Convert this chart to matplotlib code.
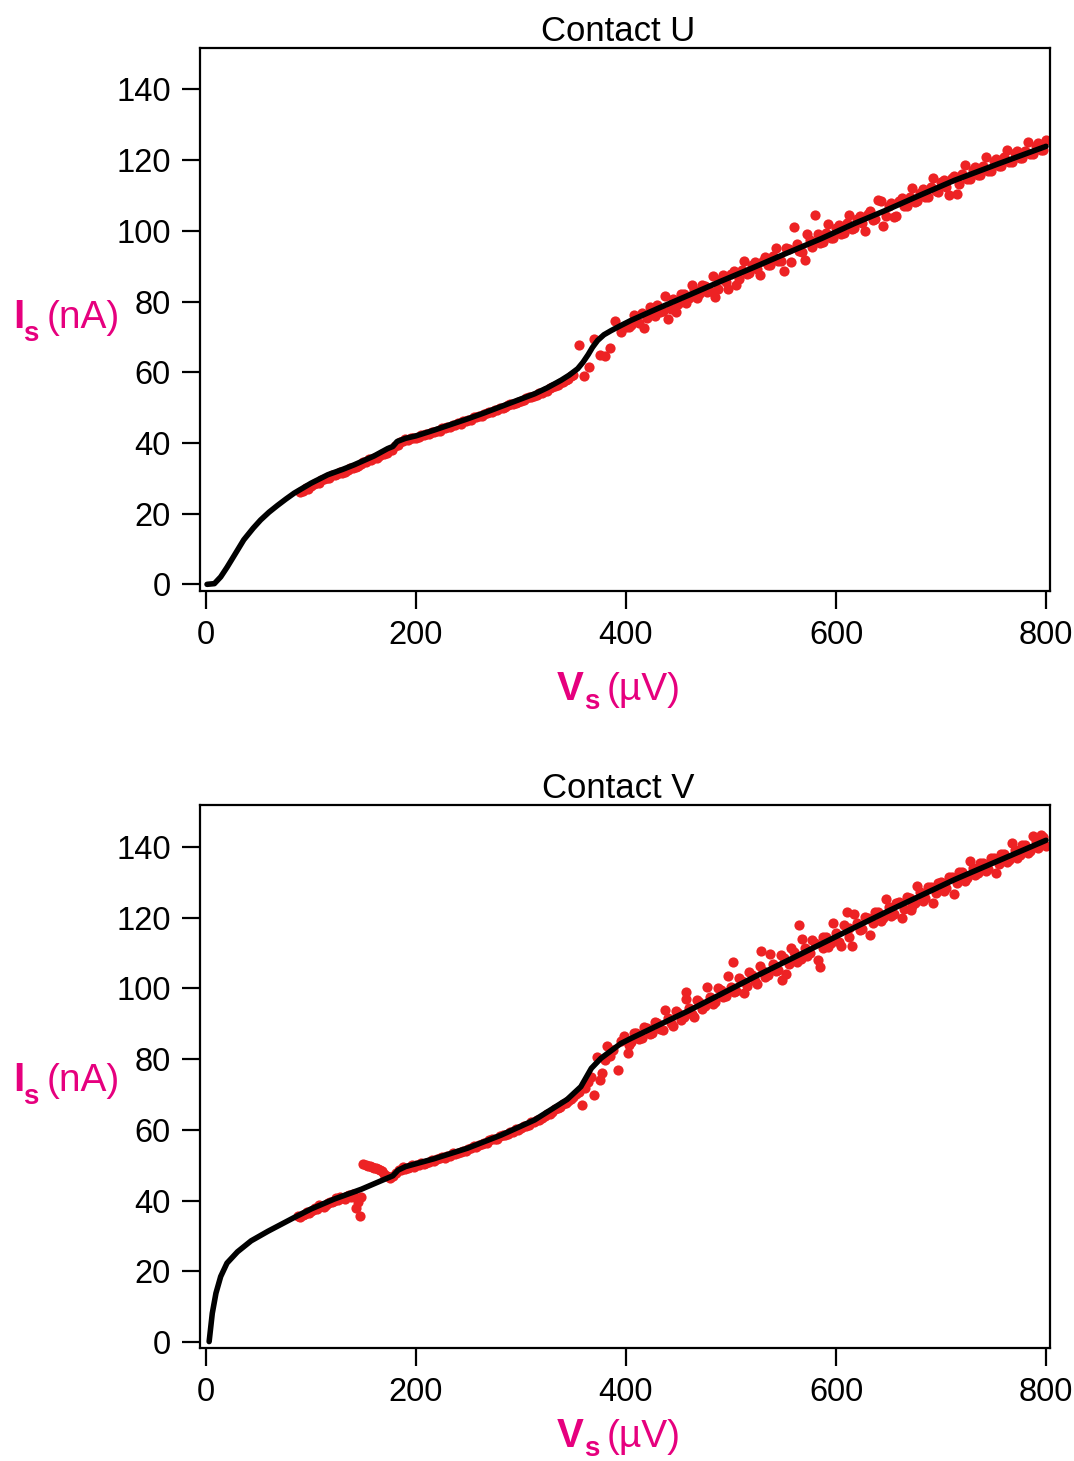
import matplotlib
matplotlib.use("Agg")
import matplotlib.pyplot as plt

plt.rcParams['font.family'] = ['Liberation Sans', 'DejaVu Sans']

# ---------------- Contact U ----------------
u_fit_v = [1, 8, 14, 20, 27, 36, 45, 52, 60, 68, 76, 84, 100, 116, 130, 141, 160, 173, 178,
           182, 190, 200, 217, 233, 249, 265, 281, 297, 313, 325, 338, 346, 354, 359, 364,
           368, 373, 379, 386, 395, 405, 430, 459, 490, 522, 554, 586, 617, 649, 681, 713,
           755, 800]
u_fit_i = [0.0, 0.2, 2.1, 4.8, 8.2, 12.6, 15.9, 18.2, 20.4, 22.3, 24.1, 25.8, 28.6, 31.0,
           32.5, 33.8, 36.3, 38.4, 39.0, 40.4, 41.3, 42.0, 43.6, 45.2, 46.8, 48.5, 50.3, 52.1,
           53.9, 55.6, 57.7, 59.2, 61.0, 62.8, 65.0, 67.0, 69.0, 70.6, 71.8, 73.2, 74.7, 78.0,
           81.7, 85.7, 89.7, 93.8, 97.8, 102.0, 106.0, 110.2, 114.3, 119.0, 123.9]

u_pts_v = [90, 95, 100, 105, 110, 115, 120, 125, 130, 135, 140, 145, 150, 155, 160, 165, 170,
           175, 180, 185, 190, 195, 200, 205, 210, 215, 220, 225, 230, 235, 240, 245, 250, 255,
           260, 265, 270, 275, 280, 285, 290, 295, 300, 305, 310, 315, 320, 325, 330, 335, 340,
           345, 350, 355, 360, 365, 370, 375, 380, 385, 390, 395, 400, 405, 410, 415, 420, 425,
           430, 435, 440, 445, 450, 455, 460, 465, 470, 475, 480, 485, 490, 495, 500, 505, 510,
           515, 520, 525, 530, 535, 540, 545, 550, 555, 560, 565, 570, 575, 580, 585, 590, 595,
           600, 605, 610, 615, 620, 625, 630, 635, 640, 645, 650, 655, 660, 665, 670, 675, 680,
           685, 690, 695, 700, 705, 710, 715, 720, 725, 730, 735, 740, 745, 750, 755, 760, 765,
           770, 775, 780, 785, 790, 795, 800]
u_pts_i = [26.0, 27.2, 27.9, 28.6, 29.5, 30.2, 30.8, 31.2, 31.6, 32.4, 33.0, 33.6, 34.5, 35.4,
           35.6, 36.2, 36.8, 38.0, 39.0, 40.2, 41.0, 41.3, 41.5, 42.2, 42.6, 43.0, 43.5, 44.3,
           44.5, 45.0, 45.5, 46.3, 46.4, 47.2, 47.6, 48.1, 48.7, 49.3, 49.8, 50.3, 51.0, 51.4,
           52.0, 52.6, 53.1, 53.6, 54.2, 54.8, 55.7, 56.4, 57.3, 58.1, 59.2, 67.8, 58.8, 61.6,
           69.3, 65.0, 64.6, 66.9, 74.6, 71.5, 72.8, 73.5, 74.6, 76.8, 75.2, 76.4, 78.9, 77.4,
           75.0, 80.6, 79.3, 82.0, 81.0, 83.4, 82.2, 84.5, 82.9, 81.4, 86.5, 85.6, 87.8, 84.8,
           88.9, 87.7, 90.4, 89.3, 91.5, 90.4, 92.9, 91.6, 88.6, 94.8, 101.0, 94.3, 91.8, 97.5,
           104.5, 96.6, 99.4, 97.9, 100.8, 99.2, 102.1, 100.5, 103.4, 102.3, 104.7, 103.1, 108.6,
           101.5, 106.9, 103.9, 108.3, 107.1, 109.6, 108.2, 110.8, 109.6, 112.3, 111.2, 113.8,
           112.4, 114.9, 110.3, 116.2, 114.8, 117.3, 115.9, 118.4, 117.0, 119.7, 118.3, 120.8,
           119.5, 121.9, 120.6, 122.6, 121.8, 124.0, 123.0, 125.6]

# in-between samples of Contact U
u_pts2_v = [92.5, 97.5, 102.5, 107.5, 112.5, 117.5, 122.5, 127.5, 132.5, 137.5, 142.5, 147.5,
            152.5, 157.5, 162.5, 167.5, 172.5, 177.5, 182.5, 187.5, 192.5, 197.5, 202.5, 207.5,
            212.5, 217.5, 222.5, 227.5, 232.5, 237.5, 242.5, 247.5, 252.5, 257.5, 262.5, 267.5,
            272.5, 277.5, 282.5, 287.5, 292.5, 297.5, 302.5, 307.5, 312.5, 317.5, 322.5, 327.5,
            332.5, 337.5, 342.5, 347.5,
            402.5, 407.5, 412.5, 417.5, 422.5, 427.5, 432.5, 437.5, 442.5, 447.5, 452.5, 457.5,
            462.5, 467.5, 472.5, 477.5, 482.5, 487.5, 492.5, 497.5, 502.5, 507.5, 512.5, 517.5,
            522.5, 527.5, 532.5, 537.5, 542.5, 547.5, 552.5, 557.5, 562.5, 567.5, 572.5, 577.5,
            582.5, 587.5, 592.5, 597.5, 602.5, 607.5, 612.5, 617.5, 622.5, 627.5, 632.5, 637.5,
            642.5, 647.5, 652.5, 657.5, 662.5, 667.5, 672.5, 677.5, 682.5, 687.5, 692.5, 697.5,
            702.5, 707.5, 712.5, 717.5, 722.5, 727.5, 732.5, 737.5, 742.5, 747.5, 752.5, 757.5,
            762.5, 767.5, 772.5, 777.5, 782.5, 787.5, 792.5, 797.5]
u_pts2_i = [26.5, 27.0, 28.4, 28.8, 29.9, 30.1, 30.9, 31.8, 31.9, 32.9, 33.2, 34.1, 34.5, 35.3,
            35.7, 36.9, 37.2, 38.1, 39.4, 40.5, 40.8, 41.4, 41.6, 42.3, 42.5, 43.1, 43.5, 44.1,
            44.5, 45.2, 45.4, 46.1, 46.5, 47.3, 47.6, 48.4, 48.7, 49.4, 49.8, 50.6, 51.0, 51.7,
            52.1, 52.9, 53.3, 54.1, 54.6, 55.5, 56.1, 57.0, 57.7, 58.8,
            72.9, 76.1, 73.8, 72.6, 78.4, 75.9, 77.1, 81.6, 77.8, 76.9, 82.1, 79.7, 84.8, 80.9,
            84.6, 82.8, 87.3, 83.6, 87.4, 83.5, 88.6, 86.5, 91.6, 88.0, 91.2, 87.6, 92.7, 90.3,
            95.1, 91.5, 95.2, 91.2, 96.4, 94.1, 99.0, 95.4, 99.0, 96.8, 101.9, 98.1, 101.6, 99.4,
            104.4, 100.7, 104.3, 100.0, 105.6, 103.4, 108.5, 104.2, 108.0, 104.1, 109.4, 107.0,
            112.2, 108.3, 111.9, 109.5, 114.9, 110.9, 114.4, 110.2, 115.6, 113.3, 118.6, 114.6,
            118.1, 115.8, 120.9, 117.0, 120.4, 118.2, 122.9, 119.4, 122.6, 120.5, 125.2, 121.6,
            124.8, 122.8]

# ---------------- Contact V ----------------
v_fit_v = [3, 6, 9.5, 14, 20, 30, 43, 59, 84, 100, 122, 148, 170, 178, 183, 190, 217, 249,
           281, 313, 344, 357, 367, 376, 395, 405, 459, 522, 586, 649, 713, 800]
v_fit_i = [0.1, 8.1, 13.8, 18.5, 22.3, 25.5, 28.6, 31.3, 35.2, 37.6, 40.4, 43.2, 46.0, 47.0,
           48.6, 49.6, 51.8, 54.8, 58.5, 62.8, 68.6, 72.2, 77.4, 80.2, 84.4, 85.9, 93.6, 103.2,
           112.6, 121.8, 130.8, 141.9]

v_pts_v = [88, 92, 96, 100, 104, 108, 112, 116, 120, 124, 128, 132, 136, 140, 143, 145, 147,
           148, 150, 152, 154, 156, 158, 160, 162, 164, 166, 168, 170, 172, 175, 178, 181, 184,
           188, 192, 196, 200, 205, 210, 215, 220, 225, 230, 235, 240, 245, 250, 255, 260, 265,
           270, 275, 280, 285, 290, 295, 300, 305, 310, 315, 320, 325, 330, 335, 340, 345, 350,
           355, 358, 361, 364, 367, 370, 372, 375, 377, 380, 382, 385, 388, 392, 395, 398, 402,
           405, 410, 415, 420, 425, 430, 435, 440, 445, 450, 455, 457, 460, 465, 470, 475, 480,
           485, 490, 495, 500, 502, 505, 510, 515, 520, 525, 529, 530, 535, 540, 545, 549, 550,
           555, 560, 565, 567, 570, 575, 580, 585, 588, 590, 595, 600, 605, 610, 612, 615, 620,
           625, 630, 635, 640, 645, 650, 655, 660, 665, 670, 671, 675, 680, 685, 690, 695, 700,
           705, 710, 715, 720, 725, 730, 735, 740, 745, 750, 755, 760, 765, 770, 775, 780, 785,
           790, 795, 800]
v_pts_i = [35.6, 36.0, 36.7, 36.9, 37.8, 38.6, 38.2, 39.4, 39.6, 40.8, 40.9, 40.5, 41.6, 41.9,
           38.0, 39.7, 35.7, 41.1, 50.3, 50.1, 49.9, 49.7, 49.5, 49.3, 49.1, 48.9, 48.6, 48.3,
           47.6, 46.8, 46.3, 47.0, 47.9, 48.6, 49.5, 49.3, 50.0, 50.0, 50.6, 50.7, 51.4, 51.8,
           52.4, 52.6, 53.4, 53.5, 54.0, 54.7, 55.4, 55.7, 56.3, 57.2, 57.5, 58.2, 58.6, 59.3,
           60.1, 60.6, 61.2, 62.1, 62.7, 63.4, 64.4, 65.1, 66.2, 67.3, 68.2, 69.4, 70.6, 67.0,
           71.7, 73.6, 75.0, 69.9, 80.7, 74.1, 76.0, 79.8, 83.7, 80.9, 82.6, 76.9, 85.0, 86.5,
           81.6, 84.8, 87.3, 86.1, 88.9, 87.4, 90.1, 88.2, 91.6, 89.4, 93.1, 91.8, 99.1, 94.6,
           92.0, 96.2, 95.0, 97.6, 96.3, 99.5, 97.9, 100.4, 107.5, 99.3, 102.2, 100.8, 103.9,
           101.2, 110.7, 105.0, 103.8, 106.9, 105.2, 102.4, 108.6, 107.0, 110.3, 117.9, 108.2,
           111.5, 109.9, 112.8, 106.1, 111.4, 114.5, 112.8, 115.7, 112.0, 121.7, 117.2, 112.0,
           118.4, 116.9, 119.9, 118.5, 121.6, 119.8, 122.9, 121.1, 124.4, 122.6, 125.7, 122.2,
           124.3, 127.2, 125.6, 128.8, 126.9, 130.1, 128.4, 131.6, 129.9, 132.9, 131.2, 134.2,
           132.6, 135.6, 133.7, 136.9, 135.1, 138.0, 136.4, 139.2, 137.6, 140.5, 139.0, 141.6,
           143.4, 140.4]

# in-between samples of Contact V
v_pts2_v = [90, 94, 98, 102, 106, 110, 114, 118, 122, 126, 130, 134, 138,
            186, 190, 194, 198, 202.5, 207.5, 212.5, 217.5, 222.5, 227.5, 232.5, 237.5, 242.5,
            247.5, 252.5, 257.5, 262.5, 267.5, 272.5, 277.5, 282.5, 287.5, 292.5, 297.5, 302.5,
            307.5, 312.5, 317.5, 322.5, 327.5, 332.5, 337.5, 342.5, 347.5, 352.5,
            402.5, 407.5, 412.5, 417.5, 422.5, 427.5, 432.5, 437.5, 442.5, 447.5, 452.5, 457.5,
            462.5, 467.5, 472.5, 477.5, 482.5, 487.5, 492.5, 497.5, 502.5, 507.5, 512.5, 517.5,
            522.5, 527.5, 532.5, 537.5, 542.5, 547.5, 552.5, 557.5, 562.5, 567.5, 572.5, 577.5,
            582.5, 587.5, 592.5, 597.5, 602.5, 607.5, 612.5, 617.5, 622.5, 627.5, 632.5, 637.5,
            642.5, 647.5, 652.5, 657.5, 662.5, 667.5, 672.5, 677.5, 682.5, 687.5, 692.5, 697.5,
            702.5, 707.5, 712.5, 717.5, 722.5, 727.5, 732.5, 737.5, 742.5, 747.5, 752.5, 757.5,
            762.5, 767.5, 772.5, 777.5, 782.5, 787.5, 792.5, 797.5]
v_pts2_i = [35.3, 36.3, 36.5, 37.4, 37.6, 38.5, 38.8, 39.5, 39.8, 40.1, 40.8, 41.3, 41.0,
            48.5, 49.0, 49.5, 49.6, 50.1, 50.2, 51.0, 51.1, 51.9, 52.0, 52.7, 53.1, 53.7, 54.0,
            54.8, 55.1, 56.0, 56.4, 57.3, 57.5, 58.4, 58.8, 59.5, 60.0, 61.0, 61.4, 62.3, 62.8,
            63.9, 64.6, 65.8, 66.5, 67.7, 68.6, 70.0,
            83.9, 87.5, 85.6, 89.0, 87.2, 90.6, 88.4, 93.8, 90.1, 93.5, 91.2, 96.9, 92.8, 96.8,
            94.3, 100.3, 95.6, 100.1, 97.5, 103.6, 99.0, 102.9, 98.6, 104.7, 102.0, 106.3, 103.3,
            109.6, 104.9, 109.5, 104.0, 111.3, 107.6, 114.1, 109.1, 113.6, 108.1, 114.5, 111.6,
            118.4, 113.2, 117.8, 114.6, 121.0, 116.5, 120.3, 115.2, 121.6, 119.0, 125.2, 120.6,
            124.1, 119.8, 125.9, 123.4, 128.9, 124.8, 128.6, 124.3, 129.9, 127.6, 131.4, 126.8,
            132.8, 130.5, 136.0, 132.0, 135.6, 133.1, 136.8, 132.6, 138.1, 135.8, 141.0, 137.0,
            140.7, 138.4, 143.2, 139.6, 142.8]

titles = ["Contact U", "Contact V"]
x_ticks = [0, 200, 400, 600, 800]
y_ticks = [0, 20, 40, 60, 80, 100, 120, 140]

RED = '#ED2224'
MAG = '#E6007E'

fig = plt.figure(figsize=(10.74, 14.61), dpi=100)
W, H = 1074.0, 1461.0


def put(xpx, ypx, s, size, bold=False):
    fig.text(xpx / W, 1 - ypx / H, s, fontsize=size, color=MAG, ha='left', va='baseline',
             fontweight='bold' if bold else 'normal')


panels = [
    (u_fit_v, u_fit_i, u_pts_v + u_pts2_v, u_pts_i + u_pts2_i, titles[0], 590.7, 328, 700),
    (v_fit_v, v_fit_i, v_pts_v + v_pts2_v, v_pts_i + v_pts2_i, titles[1], 1348.3, 1091, 1447),
]
for fv, fi, pv, pi, title, bottom_px, ylab_base, xlab_base in panels:
    ax = fig.add_axes([200 / W, 1 - bottom_px / H, 850 / W, 543 / H])
    ax.scatter(pv, pi, s=54, color=RED, linewidths=0, zorder=2)
    ax.plot(fv, fi, color='black', lw=4.0, zorder=3, solid_capstyle='round')
    ax.set_xlim(-5.7, 803.8)
    ax.set_ylim(-1.8, 151.8)
    ax.set_xticks(x_ticks)
    ax.set_yticks(y_ticks)
    ax.tick_params(direction='out', length=13, width=1.6, labelsize=23.5, pad=8,
                   colors='black')
    for sp in ax.spines.values():
        sp.set_linewidth(1.6)
    ax.set_title(title, fontsize=25, pad=4, x=0.492)
    # y label: I_s (nA)
    put(13, ylab_base, 'I', 29, bold=True)
    put(23, ylab_base + 13, 's', 20, bold=True)
    put(47, ylab_base, '(nA)', 28)
    # x label: V_s (µV)
    put(557, xlab_base, 'V', 29, bold=True)
    put(584, xlab_base + 9, 's', 20, bold=True)
    put(607, xlab_base, '(\u00b5V)', 28)

fig.savefig('out.png', dpi=100)
